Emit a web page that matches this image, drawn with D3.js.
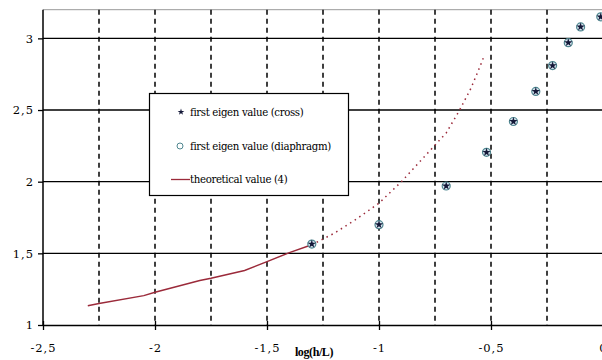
<!DOCTYPE html>
<html>
<head>
<meta charset="utf-8">
<script src="https://cdn.jsdelivr.net/npm/d3@7"></script>
<style>
  body { margin: 0; background: #fff; }
  svg { display: block; }
  svg text { font-family: "DejaVu Serif", serif !important; }
  svg text.title { font-family: "Liberation Serif", "DejaVu Serif", serif !important; }
</style>
</head>
<body>
<div id="viz"></div>
<script>
// measured values
const xTicks = [-2.5, -2, -1.5, -1, -0.5, 0];
const yTicks = [1, 1.5, 2, 2.5, 3];
const dashX = [-2.25, -2, -1.75, -1.5, -1.25, -1, -0.75, -0.5, -0.25];

const crossX = [-1.3, -1, -0.7, -0.52, -0.4, -0.3, -0.225, -0.155, -0.1, -0.01];
const crossY = [1.565, 1.70, 1.97, 2.205, 2.42, 2.63, 2.81, 2.97, 3.08, 3.15];
const diaphX = [-1.3, -1, -0.7, -0.52, -0.4, -0.3, -0.225, -0.155, -0.1, -0.01];
const diaphY = [1.565, 1.70, 1.97, 2.205, 2.42, 2.63, 2.81, 2.97, 3.08, 3.15];

const theoX = [-2.3, -2.25, -2.05, -2.0, -1.8, -1.75, -1.6, -1.5, -1.4, -1.3];
const theoY = [1.135, 1.15, 1.205, 1.228, 1.31, 1.326, 1.38, 1.442, 1.505, 1.56];
const extX = [-1.3, -1.2, -1.1, -1.0, -0.9, -0.8, -0.7, -0.64, -0.59, -0.55, -0.53];
const extY = [1.56, 1.64, 1.74, 1.85, 2.0, 2.17, 2.34, 2.5, 2.65, 2.8, 2.88];

const legendLabels = ["first eigen value (cross)", "first eigen value (diaphragm)", "theoretical value (4)"];

const W = 602, H = 360;
const svg = d3.select("#viz").append("svg").attr("width", W).attr("height", H);

const x = d3.scaleLinear().domain([-2.5, 0]).range([43, 603]);
const y = d3.scaleLinear().domain([1, 3.2]).range([325, 9.7]);

// top border
svg.append("line").attr("x1", x(-2.5)).attr("x2", W).attr("y1", y(3.2)).attr("y2", y(3.2))
  .attr("stroke", "#999").attr("stroke-width", 1);

// vertical dashed grid
svg.append("g").selectAll("line").data(dashX).enter().append("line")
  .attr("x1", d => x(d)).attr("x2", d => x(d))
  .attr("y1", y(3.2)).attr("y2", y(1))
  .attr("stroke", "#000").attr("stroke-width", 1.5)
  .attr("stroke-dasharray", "5,4");

// horizontal grid
svg.append("g").selectAll("line").data(yTicks.slice(1)).enter().append("line")
  .attr("x1", x(-2.5)).attr("x2", W)
  .attr("y1", d => y(d)).attr("y2", d => y(d))
  .attr("stroke", "#000").attr("stroke-width", 1.3);

// axes
const fmt = d => String(d).replace(".", ",");
const xAxis = svg.append("g").attr("transform", `translate(0,${y(1)})`)
  .call(d3.axisBottom(x).tickValues(xTicks).tickFormat(fmt).tickSizeInner(5).tickSizeOuter(0).tickPadding(14));
xAxis.selectAll(".tick line").attr("y1", -4).attr("stroke-width", 1.3);
const yAxis = svg.append("g").attr("transform", `translate(${x(-2.5)},0)`)
  .call(d3.axisLeft(y).tickValues(yTicks).tickFormat(fmt).tickSizeInner(5).tickSizeOuter(0).tickPadding(4));
yAxis.selectAll(".tick line").attr("stroke-width", 1.3);
[xAxis, yAxis].forEach(a => {
  a.attr("font-family", null);
  a.select(".domain").attr("stroke-width", 1.5);
  a.selectAll("text").attr("font-size", 11.5).attr("fill", "#000").attr("letter-spacing", "1");
});
yAxis.select(".domain").attr("d", `M0,${y(3.2)}V${y(1)}`);

svg.append("text").attr("class", "title").attr("x", 314).attr("y", 356).attr("text-anchor", "middle")
  .attr("font-size", 12).attr("font-weight", "bold").attr("letter-spacing", "-0.4")
  .text("log(h/L)");

// theoretical curve
const line = d3.line().x(d => x(d[0])).y(d => y(d[1]));
svg.append("path").datum(theoX.map((v, i) => [v, theoY[i]]))
  .attr("d", line).attr("fill", "none").attr("stroke", "#9b2a3a").attr("stroke-width", 1.5);
svg.append("path").datum(extX.map((v, i) => [v, extY[i]]))
  .attr("d", line).attr("fill", "none").attr("stroke", "#9b2a3a").attr("stroke-width", 1.5)
  .attr("stroke-dasharray", "1.5,4");

// diaphragm markers
svg.append("g").selectAll("circle").data(diaphX.map((v, i) => [v, diaphY[i]])).enter().append("circle")
  .attr("cx", d => x(d[0])).attr("cy", d => y(d[1])).attr("r", 4)
  .attr("fill", "#d6e4ee").attr("stroke", "#4f8790").attr("stroke-width", 1.2);

// cross markers
const star = d3.symbol().type(d3.symbolStar).size(22);
svg.append("g").selectAll("path").data(crossX.map((v, i) => [v, crossY[i]])).enter().append("path")
  .attr("d", star).attr("transform", d => `translate(${x(d[0])},${y(d[1])})`)
  .attr("fill", "#141838");

// legend
const lg = svg.append("g");
lg.append("rect").attr("x", 149.5).attr("y", 93.5).attr("width", 199).attr("height", 102)
  .attr("fill", "#fff").attr("stroke", "#000").attr("stroke-width", 1.2);
lg.append("path").attr("d", d3.symbol().type(d3.symbolStar).size(14))
  .attr("transform", "translate(181,112)").attr("fill", "#141838");
lg.append("circle").attr("cx", 180).attr("cy", 146).attr("r", 3)
  .attr("fill", "#fff").attr("stroke", "#4f8790").attr("stroke-width", 1);
lg.append("line").attr("x1", 171).attr("x2", 190).attr("y1", 179.5).attr("y2", 179.5)
  .attr("stroke", "#9b2a3a").attr("stroke-width", 1.3);
lg.selectAll("text.lab").data(legendLabels).enter().append("text")
  .attr("class", "lab")
  .attr("x", 190)
  .attr("y", (d, i) => [115.5, 149.5, 183][i])
  .attr("font-size", 10.2).attr("letter-spacing", "-0.35").attr("fill", "#000")
  .text(d => d);
</script>
</body>
</html>
